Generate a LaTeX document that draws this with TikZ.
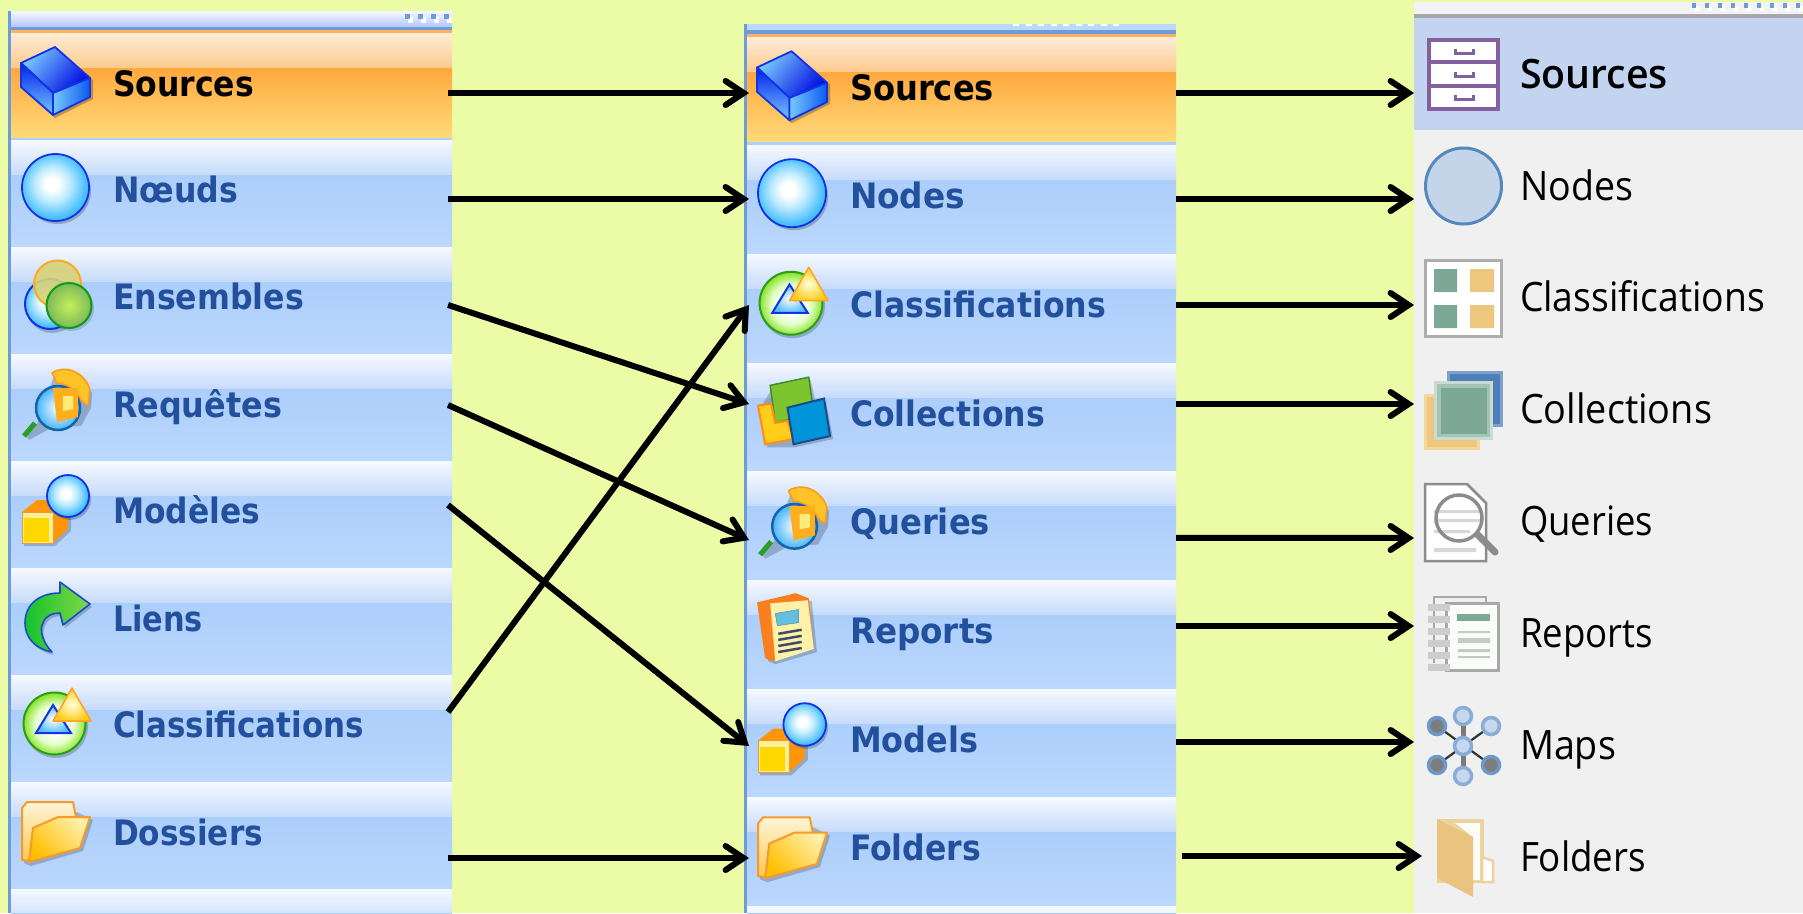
\documentclass[tikz,border=0pt]{standalone}
\usepackage{fontspec}
\usepackage{graphicx}
\setmainfont{DejaVu Sans}
\newfontfamily\segoe{Open Sans}
\newfontfamily\segoeb{Open Sans Semibold}
\usetikzlibrary{arrows.meta,calc}
\newcommand\dc[2]{\definecolor{#1}{HTML}{#2}}
\dc{bgy}{EBFBA6}\dc{bord}{6F9BD6}\dc{rowa}{F6F9FF}\dc{rowb}{C6DBFB}\dc{rowc}{ACCEFB}\dc{rowd}{BBD8FD}
\dc{txtblue}{22509C}\dc{tgreen}{7DA896}\dc{torange}{EDC77D}\dc{tblue}{4F7FB8}\dc{tviolet}{8560A0}\dc{icblue}{1133E6}
\dc{xorline}{FFB264}\dc{xorb}{FCCA8C}\dc{xorc}{FFA83E}\dc{xord}{FFDA78}
\dc{xcubl}{78C8FF}\dc{xcubd}{000AE1}\dc{xcubm}{001EEB}\dc{xcubn}{0A5AF0}\dc{xballb}{1EAAFF}
\dc{xclg}{5AD200}\dc{xclgd}{28A014}\dc{xclb}{5ABEFF}\dc{xyla}{FFFFDC}\dc{xylb}{FFCD1E}\dc{xylc}{FFA01E}
\dc{xfa}{FFF5D7}\dc{xfb}{FFC850}\dc{xfs}{F79A2C}\dc{xfc}{FFBE00}\dc{xfd}{FFEFA8}
\dc{xma}{FF960A}\dc{xmb}{FFF096}\dc{xmc}{FFD800}\dc{xmd}{F09632}
\dc{xqa}{FFC328}\dc{xqb}{FF961E}\dc{xqc}{28A028}\dc{xqd}{46B4FA}\dc{xqe}{1464AA}\dc{xqf}{FFAF1E}\dc{xqg}{FFEB78}
\dc{xta}{28AAFF}\dc{xtb}{D7D278}\dc{xtc}{FAAA1E}\dc{xtd}{C3F05A}\dc{xte}{7DB95A}\dc{xtf}{0F9B19}
\dc{xaa}{14C32D}\dc{xab}{82D746}\dc{xac}{194BCD}
\dc{xca}{7DC52E}\dc{xcb}{3C8C32}\dc{xcc}{FFCD1A}\dc{xcd}{FF8C1A}\dc{xce}{0095D9}\dc{xcf}{1A4A8A}
\dc{xra}{F97F1F}\dc{xrb}{FFF1A8}\dc{xrc}{63BEE0}\dc{xrd}{468CAA}\dc{xre}{3C4A6C}
\dc{xgf}{F0F0F0}\dc{xgh}{F3F3F6}\dc{xgl}{A8A8A8}\dc{xhl}{C2D4F0}\dc{xci}{5588BF}\dc{xcj}{C4D5E9}\dc{xgm}{ADADAD}
\dc{xka}{F5D69B}\dc{xkb}{7FA0CC}\dc{xkc}{C8DCD2}\dc{xkd}{A5C4B5}\dc{xqq}{8C8C8C}\dc{xql}{D7D7D7}
\dc{xpg}{FAFCFA}\dc{xrl}{CDCDCD}\dc{xrm}{C8C8C8}\dc{xmp}{7A7A7A}\dc{xmq}{323232}\dc{xmr}{8AADD8}\dc{xms}{C5D8EE}\dc{xmt}{6F97C8}\dc{xmu}{7D7D7D}
\dc{xfe}{ECD29B}\dc{xff}{FCFCF6}\dc{xfg}{E8C480}
\dc{xb1}{BDEBFF}\dc{xb2}{4DC0FF}\dc{xg1}{E2FFC8}\dc{xg2}{78DC06}
\pgfdeclareradialshading{ballsh}{\pgfpoint{-3bp}{3bp}}{color(0bp)=(white);color(5bp)=(white);color(13bp)=(xb1);color(24bp)=(xb2);color(34bp)=(xballb);color(60bp)=(xballb)}
\pgfdeclareradialshading{clsh}{\pgfpoint{0bp}{-1bp}}{color(0bp)=(white);color(7bp)=(white);color(16bp)=(xg1);color(27bp)=(xg2);color(36bp)=(xclg);color(60bp)=(xclg)}
\tikzset{
  rowbox/.style={rectangle,draw=none,inner sep=0pt,outer sep=0pt,anchor=north west},
  lab/.style={anchor=base west,inner sep=0pt,outer sep=0pt},
  arr/.style={line width=6pt,draw=black,-{Straight Barb[length=18pt,width=24pt,line width=6pt,line cap=round,line join=miter]}}
}
% fit a text to a width in px
\newcommand\fitw[2]{\setbox0\hbox{#2}\pgfmathsetmacro\rr{#1/\the\wd0}\scalebox{\rr}[1]{\box0}}
\newcommand\xpfont{\fontsize{35}{40}\selectfont\bfseries}
\newcommand\sgfont{\segoe\fontsize{40.5}{46}\selectfont}
\newcommand\sgbfont{\segoeb\fontsize{40.5}{46}\selectfont}
% \lbl{name}{x}{base}{right}{font}{colour}{text}
\newcommand\lbl[7]{\pgfmathsetmacro\ww{#4-#2}\node[lab,text=#6] (#1) at (#2,#3) {#5\fitw{\ww}{#7}};}
% rows: name x1 y1 x2 y2
\newcommand\bluerow[5]{%
  \shade[top color=rowa,bottom color=rowb] (#2,#3) rectangle (#4,#3+35);
  \shade[top color=rowc,bottom color=rowd] (#2,#3+35) rectangle (#4,#5);
  \node[rowbox,minimum width=#4pt-#2pt,minimum height=#5pt-#3pt] (#1) at (#2,#3) {};}
\newcommand\orangerow[5]{%
  \shade[top color=white!85!orange,bottom color=xorb] (#2,#3) rectangle (#4,#3+35);
  \shade[top color=xorc,bottom color=xord] (#2,#3+35) rectangle (#4,#5);
  \node[rowbox,minimum width=#4pt-#2pt,minimum height=#5pt-#3pt] (#1) at (#2,#3) {};}
\newcommand\conn[6]{\draw[arr] ([shift={(#2,#3)}]#1.east) -- ([shift={(#5,#6)}]#4.west);}
% icons in local coords (row top left)
\newcommand\iccube{%
  \fill[black,opacity=.25] (2,32)--(36,16)--(72,47)--(72,66)--(34,85)--(2,56)--cycle;
  \shade[top color=xcubl,bottom color=xcubd,draw=icblue,line width=1.8pt,line join=round,shading angle=50] (34,14)--(0,30)--(32,60)--(69,45)--cycle;
  \shade[top color=xcubm,bottom color=xcubl,draw=icblue,line width=1.8pt,line join=round] (0,30)--(32,60)--(32,82)--(0,54)--cycle;
  \shade[left color=xcubl,right color=xcubn,draw=icblue,line width=1.8pt,line join=round] (32,60)--(69,45)--(69,64)--(32,82)--cycle;}
\newcommand\icball[3]{%
  \fill[black,opacity=.22] (#1+2,#2+3) circle[radius=#3];
  \shade[shading=ballsh,draw=icblue,line width=1.8pt] (#1,#2) circle[radius=#3];}
\newcommand\icclass{%
  \fill[black,opacity=.2] (35,51) circle[radius=32];
  \shade[shading=clsh,draw=xclgd,line width=2pt] (33.5,48.5) circle[radius=31];
  \shade[inner color=white,outer color=xclb,draw=icblue,line width=2pt] (32,30)--(15,58)--(50,58)--cycle;
  \shade[inner color=xyla,outer color=xylb,draw=xylc,line width=1.5pt,line join=round] (51,13)--(32,46)--(70,46)--cycle;}
\newcommand\icfolder{%
  \fill[black,opacity=.2] (3,30)--(56,30)--(72,38)--(62,69)--(10,84)--(3,81)--cycle;
  \shade[top color=xfa,bottom color=xfb,draw=xfs,line width=2pt,line join=round] (1,26)--(6,20)--(52,20)--(55,35)--(55,50)--(10,79)--(1,78)--cycle;
  \shade[top color=xfd,bottom color=xfc,shading angle=-45,draw=xfs,line width=2pt,line join=round] (12,46)--(37,35)--(69,35)--(59,66)--(8,80)--cycle;}
\newcommand\icmodel{%
  \fill[black,opacity=.2] (3,54)--(3,85)--(34,85)--(50,70)--(50,55)--cycle;
  \fill[xma] (1,51)--(16,39)--(32,39)--(47,49)--(47,68)--(32,82)--(1,82)--cycle;
  \fill[xmb] (1,51) rectangle (32,82);
  \fill[xmc] (3,57) rectangle (28,81);
  \draw[xmd,line width=1pt] (1,51) rectangle (32,82);
  \icball{47}{35}{21}}
\newcommand\icquery{%
  \fill[black,opacity=.2] (33,22)--(51,17)--(71,39)--(70,54)--(60,72)--(30,74)--(8,86)--(4,80)--(16,70)--cycle;
  \fill[xqa,draw=xqb,line width=1.5pt,line join=round] (31,19) .. controls (44,10) and (64,18) .. (69,36) -- (67,52) -- (60,46) .. controls (56,36) and (46,30) .. (36,29) -- cycle;
  \draw[xqc,line width=5pt] (14,69)--(3,82);
  \shade[inner color=white,outer color=xqd,draw=xqe,line width=2.5pt] (37,54) circle[radius=22];
  \fill[xqf] (32,34)--(57,34)--(57,63)--(36,68)--cycle;
  \fill[xqg] (42,42)--(52,42)--(52,55)--(42,57)--cycle;}
\newcommand\ictrio{%
  \fill[black,opacity=.2] (31,60) circle[radius=26];
  \shade[shading=ballsh,draw=icblue,line width=2pt] (29,57) circle[radius=25];
  \fill[xtb,fill opacity=.9,draw=xtc,line width=2pt] (36.5,37) circle[radius=23.5];
  \fill[black,opacity=.15] (50,61) circle[radius=23];
  \shade[inner color=xtd,outer color=xte,draw=xtf,line width=2pt] (48,58.5) circle[radius=22.5];}
\newcommand\icarrow{%
  \fill[black,opacity=.2] (71,39)--(41,17)--(41,28) .. controls (22,28) and (6,38) .. (6,58) .. controls (6,71) and (14,83) .. (33,87) .. controls (24,78) and (20,65) .. (24,58) .. controls (27,50) and (34,48) .. (41,48) -- (44,60) -- cycle;
  \shade[left color=xaa,right color=xab,draw=xac,line width=1.6pt,line join=round] (69,36)--(39,14)--(39,25) .. controls (20,25) and (4,35) .. (4,55) .. controls (4,68) and (12,80) .. (31,84) .. controls (22,75) and (18,62) .. (22,55) .. controls (25,47) and (32,45) .. (39,45) -- (42,57) -- cycle;}
\newcommand\iccoll{%
  \fill[black,opacity=.2] (3,45)--(15,25)--(53,17)--(58,40)--(68,38)--(75,75)--(38,83)--(10,83)--cycle;
  \fill[xca,draw=xcb,line width=1.5pt] (13,22)--(51,14)--(56,50)--(18,59)--cycle;
  \fill[xcc,draw=xcd,line width=2pt] (1,42)--(14,40)--(18,59)--(30,57)--(36,75)--(8,80)--cycle;
  \fill[xce,draw=xcf,line width=2pt] (30,44)--(66,35)--(72,72)--(36,80)--cycle;}
\newcommand\icreport{%
  \fill[black,opacity=.2] (3,25)--(40,16)--(54,21)--(59,71)--(18,83)--(11,80)--cycle;
  \fill[xra] (0,22)--(38,13)--(51,18)--(56,68)--(15,80)--(8,77)--cycle;
  \fill[xrb] (13,23)--(50,20)--(56,68)--(18,80)--cycle;
  \fill[xrc,draw=xrd] (18,33)--(41,29)--(41,42)--(20,45)--cycle;
  \foreach \yy in {51,57,63,69}{\draw[xre,line width=2.5pt] (21,\yy+2)--(44,\yy-2);}}
\begin{document}
\begin{tikzpicture}[x=1pt,y=-1pt]
\useasboundingbox (0,0) rectangle (1803,913);
\fill[bgy] (0,0) rectangle (1803,913);
% ---------- left panel
\fill[bord] (8,11) rectangle (11,913);
\shade[top color=rowa,bottom color=rowb!90!blue] (11,11) rectangle (452,27);
\fill[bord] (11,27) rectangle (452,30);
\fill[xorline] (11,30) rectangle (452,33);
\fill[rowc] (11,137) rectangle (452,140);
\foreach \xx in {405,418,431,444}{\fill[white] (\xx+3,17) rectangle +(5,6);\fill[bord] (\xx,14) rectangle +(5,5);}
\orangerow{l1}{11}{33}{452}{137}
\bluerow{l2}{11}{140}{452}{247}
\bluerow{l3}{11}{247}{452}{354}
\bluerow{l4}{11}{354}{452}{461}
\bluerow{l5}{11}{461}{452}{568}
\bluerow{l6}{11}{568}{452}{675}
\bluerow{l7}{11}{675}{452}{782}
\bluerow{l8}{11}{782}{452}{889}
\bluerow{l9}{11}{889}{452}{913}
\begin{scope}[shift={(21,33)}]\iccube\end{scope}
\begin{scope}[shift={(21,140)}]\icball{34.5}{47.5}{33.5}\end{scope}
\begin{scope}[shift={(21,247)}]\ictrio\end{scope}
\begin{scope}[shift={(21,354)}]\icquery\end{scope}
\begin{scope}[shift={(21,461)}]\icmodel\end{scope}
\begin{scope}[shift={(21,568)}]\icarrow\end{scope}
\begin{scope}[shift={(21,675)}]\icclass\end{scope}
\begin{scope}[shift={(21,782)}]\icfolder\end{scope}
\lbl{lt1}{113}{96}{254}{\xpfont}{black}{Sources}
\lbl{lt2}{113}{202}{238}{\xpfont}{txtblue}{Nœuds}
\lbl{lt3}{113}{309}{304}{\xpfont}{txtblue}{Ensembles}
\lbl{lt4}{113}{417}{282}{\xpfont}{txtblue}{Requêtes}
\lbl{lt5}{113}{523}{260}{\xpfont}{txtblue}{Modèles}
\lbl{lt6}{113}{631}{203}{\xpfont}{txtblue}{Liens}
\lbl{lt7}{113}{737}{364}{\xpfont}{txtblue}{Classifications}
\lbl{lt8}{113}{845}{263}{\xpfont}{txtblue}{Dossiers}
% ---------- middle panel
\fill[bord] (744,24) rectangle (747,913);
\fill[rowd] (747,24) rectangle (1176,30);
\foreach \xx in {1013,1025.5,...,1122}{\fill[white] (\xx,24) rectangle +(6,2);}
\fill[bord] (747,30) rectangle (1176,34);
\fill[xorline] (747,34) rectangle (1176,37);
\fill[rowc] (747,141) rectangle (1176,145);
\orangerow{m1}{747}{37}{1176}{141}
\bluerow{m2}{747}{145}{1176}{254}
\bluerow{m3}{747}{254}{1176}{363}
\bluerow{m4}{747}{363}{1176}{471.5}
\bluerow{m5}{747}{471.5}{1176}{580}
\bluerow{m6}{747}{580}{1176}{689}
\bluerow{m7}{747}{689}{1176}{797}
\bluerow{m8}{747}{797}{1176}{906}
\bluerow{m9}{747}{906}{1176}{913}
\begin{scope}[shift={(757,37)},scale=1.015]\iccube\end{scope}
\begin{scope}[shift={(757,145)},scale=1.015]\icball{34.5}{47.5}{33.5}\end{scope}
\begin{scope}[shift={(757,254)},scale=1.015]\icclass\end{scope}
\begin{scope}[shift={(757,363)},scale=1.015]\iccoll\end{scope}
\begin{scope}[shift={(757,471.5)},scale=1.015]\icquery\end{scope}
\begin{scope}[shift={(757,580)},scale=1.015]\icreport\end{scope}
\begin{scope}[shift={(757,689)},scale=1.015]\icmodel\end{scope}
\begin{scope}[shift={(757,797)},scale=1.015]\icfolder\end{scope}
\lbl{mt1}{850}{100}{994}{\xpfont}{black}{Sources}
\lbl{mt2}{850}{208}{965}{\xpfont}{txtblue}{Nodes}
\lbl{mt3}{850}{317}{1106}{\xpfont}{txtblue}{Classifications}
\lbl{mt4}{850}{426}{1045}{\xpfont}{txtblue}{Collections}
\lbl{mt5}{850}{534}{990}{\xpfont}{txtblue}{Queries}
\lbl{mt6}{850}{643}{994}{\xpfont}{txtblue}{Reports}
\lbl{mt7}{850}{752}{978}{\xpfont}{txtblue}{Models}
\lbl{mt8}{850}{860}{981}{\xpfont}{txtblue}{Folders}
% ---------- right panel
\fill[xgf] (1414,2) rectangle (1803,913);
\fill[xgh] (1414,2) rectangle (1803,14);
\fill[xgl] (1414,14) rectangle (1803,18);
\foreach \xx in {1692,1705,...,1803}{\fill[white] (\xx+3,6) rectangle +(4,5);\fill[bord] (\xx,3) rectangle +(4,5);}
\node[rowbox,fill=xhl,minimum width=389pt,minimum height=112pt] (r1) at (1414,18) {};
\node[rowbox,minimum width=389pt,minimum height=112pt] (r2) at (1414,130) {};
\node[rowbox,minimum width=389pt,minimum height=112pt] (r3) at (1414,242) {};
\node[rowbox,minimum width=389pt,minimum height=112pt] (r4) at (1414,354) {};
\node[rowbox,minimum width=389pt,minimum height=112pt] (r5) at (1414,466) {};
\node[rowbox,minimum width=389pt,minimum height=112pt] (r6) at (1414,578) {};
\node[rowbox,minimum width=389pt,minimum height=112pt] (r7) at (1414,690) {};
\node[rowbox,minimum width=389pt,minimum height=111pt] (r8) at (1414,802) {};
% cabinet
\draw[tviolet,fill=white,line width=3.5pt] (1429,40) rectangle (1498,109);
\draw[tviolet,line width=3.5pt] (1429,62)--(1498,62) (1429,86)--(1498,86);
\foreach \yy in {49,72,95}{\draw[tviolet,line width=3pt] (1455,\yy)--(1455,\yy+4)--(1473,\yy+4)--(1473,\yy);}
% circle
\draw[xci,fill=xcj,line width=3pt] (1463.5,186) circle[radius=38];
% classification tile
\draw[xgm,fill=white,line width=3pt] (1425.5,260.5) rectangle (1501.5,336.5);
\fill[tgreen] (1434,269) rectangle (1457,292) (1434,305) rectangle (1457,328);
\fill[torange] (1470,269) rectangle (1494,292) (1470,305) rectangle (1494,328);
% collections
\fill[xka] (1424,394) rectangle (1480,450);
\fill[torange] (1427,397) rectangle (1477,447);
\fill[xkb] (1447,371) rectangle (1503,427);
\fill[tblue] (1450,374) rectangle (1500,424);
\fill[xkc] (1434,381) rectangle (1493,440);
\fill[xkd] (1437,384) rectangle (1490,437);
\fill[tgreen] (1441,388) rectangle (1487,434);
% queries
\draw[xqq,fill=white,line width=2.5pt] (1425,484)--(1467,484)--(1486,503)--(1486,561)--(1425,561)--cycle;
\fill[xql] (1434,510) rectangle (1482,513) (1434,519) rectangle (1482,522) (1434,530) rectangle (1470,533) (1434,548) rectangle (1476,552);
\draw[xqq,line width=3.5pt] (1459,518) circle[radius=23];
\draw[xqq,line width=7pt,line cap=round] (1478,535)--(1495,552);
% reports
\draw[xgl,line width=2.5pt] (1434,663)--(1434,597)--(1486,597)--(1486,605);
\draw[xgl,fill=xpg,line width=3pt] (1446,603.5) rectangle (1498,670);
\foreach \yy in {604,616,628,640,652,664}{\fill[xrl] (1428,\yy) rectangle +(22,7);}
\fill[tgreen] (1457,614) rectangle (1490,621);
\fill[xrm] (1458,631) rectangle (1490,633) (1458,638) rectangle (1490,643) (1458,649) rectangle (1490,652) (1458,656) rectangle (1490,658);
% maps
\draw[xmp,line width=5pt] (1463,716)--(1463,776);
\draw[xmq,line width=2.2pt] (1437,726)--(1491,765) (1437,765)--(1491,726);
\foreach \px/\py in {1463/746,1463/716,1463/776,1491/726}{\draw[xmr,fill=xms,line width=3.5pt] (\px,\py) circle[radius=8.5];}
\foreach \px/\py in {1437/726,1437/765,1491/765}{\draw[xmt,fill=xmu,line width=3.5pt] (\px,\py) circle[radius=8.5];}
% folder
\fill[xfe] (1437,819) rectangle (1484,883);
\fill[xff] (1455,823) -- (1480,823) -- (1480,880) -- (1473,880) -- (1473,837) -- cycle;
\draw[xfe,fill=white,line width=2.5pt] (1482,857)--(1493,861)--(1493,882)--(1482,882)--cycle;
\fill[xfg] (1437,819)--(1473,837)--(1473,897)--(1437,878)--cycle;
\lbl{rt1}{1520}{88.5}{1668}{\sgbfont}{black}{Sources}
\lbl{rt2}{1520}{200.5}{1633}{\sgfont}{black}{Nodes}
\lbl{rt3}{1520}{311.5}{1765}{\sgfont}{black}{Classifications}
\lbl{rt4}{1520}{423.5}{1712}{\sgfont}{black}{Collections}
\lbl{rt5}{1520}{535.5}{1653}{\sgfont}{black}{Queries}
\lbl{rt6}{1520}{647.5}{1653}{\sgfont}{black}{Reports}
\lbl{rt7}{1520}{759.5}{1616}{\sgfont}{black}{Maps}
\lbl{rt8}{1520}{871.5}{1646}{\sgfont}{black}{Folders}
% ---------- connectors
\conn{l1}{-4}{8}{m1}{2}{4}
\conn{l2}{-4}{5.5}{m2}{2}{-0.5}
\conn{l3}{-4}{4.5}{m4}{2}{-13.25}
\conn{l4}{-4}{-2.5}{m5}{2}{14.25}
\conn{l5}{-4}{-9.5}{m7}{2}{3}
\conn{l7}{-4}{-16.5}{m3}{2}{-3.5}
\conn{l8}{-4}{22.5}{m8}{2}{6.5}
\conn{m1}{0}{4}{r1}{0}{19}
\conn{m2}{0}{-0.5}{r2}{0}{13}
\conn{m3}{0}{-3.5}{r3}{0}{7}
\conn{m4}{0}{-13.25}{r4}{0}{-6}
\conn{m5}{0}{12}{r5}{0}{16}
\conn{m6}{0}{-8.5}{r6}{0}{-8}
\conn{m7}{0}{-1}{r7}{0}{-4}
\conn{m8}{6}{4.5}{r8}{8}{-1.5}
\end{tikzpicture}
\end{document}
